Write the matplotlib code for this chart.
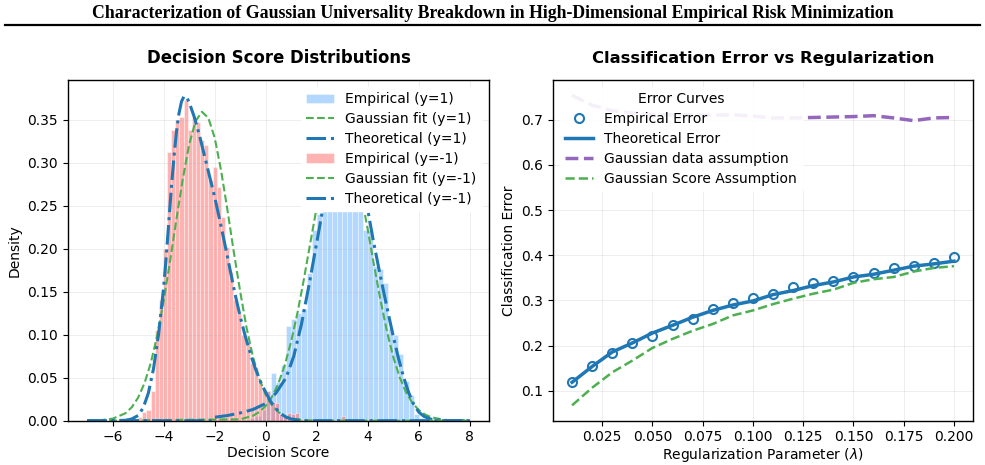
import numpy as np
import matplotlib
matplotlib.use('Agg')
import matplotlib.pyplot as plt
from matplotlib.lines import Line2D

# ---- left panel: histograms (bin start, bin width, densities) ----
pos_start, pos_width = -0.6, 0.2
pos_density = [0.003, 0.006, 0.012, 0.035, 0.056, 0.045, 0.065, 0.110, 0.118, 0.125,
               0.130, 0.172, 0.222, 0.240, 0.270, 0.290, 0.310, 0.330, 0.320, 0.310,
               0.290, 0.262, 0.222, 0.222, 0.180, 0.176, 0.160, 0.108, 0.100, 0.078,
               0.046, 0.030, 0.008, 0.003]

neg_start, neg_width = -5.0, 0.162
neg_density = [0.004, 0.010, 0.013, 0.035, 0.105, 0.140, 0.200, 0.312, 0.338, 0.350,
               0.353, 0.373, 0.338, 0.353, 0.347, 0.326, 0.320, 0.280, 0.295, 0.272,
               0.237, 0.202, 0.173, 0.140, 0.125, 0.100, 0.090, 0.067, 0.062, 0.045,
               0.035, 0.034, 0.022, 0.020, 0.008, 0.004, 0.009, 0.008, 0.009, 0.002,
               0, 0, 0, 0, 0, 0, 0, 0, 0, 0.005]

# Gaussian fits
fit_pos_x = [-7.0, -1.0, -0.5, -0.25, 0.0, 0.25, 0.5, 0.75, 1.0, 1.25, 1.5, 1.75, 2.0,
             2.25, 2.5, 2.75, 3.0, 3.25, 3.5, 3.75, 4.0, 4.25, 4.5, 4.75, 5.0, 5.25,
             5.5, 5.75, 6.0, 6.25, 6.5, 7.0, 7.5, 8.0]
fit_pos_y = [0.0, 0.0016, 0.0057, 0.0101, 0.0172, 0.028, 0.0435, 0.0648, 0.0924, 0.126,
             0.165, 0.207, 0.248, 0.284, 0.313, 0.329, 0.332, 0.320, 0.296, 0.262,
             0.222, 0.180, 0.140, 0.104, 0.074, 0.0505, 0.033, 0.0206, 0.0124, 0.0071,
             0.0039, 0.001, 0.0002, 0.0]

fit_neg_x = [-7.0, -6.5, -6.0, -5.5, -5.25, -5.0, -4.75, -4.5, -4.25, -4.0, -3.75, -3.5,
             -3.25, -3.0, -2.75, -2.5, -2.25, -2.0, -1.75, -1.5, -1.25, -1.0, -0.75,
             -0.5, -0.25, 0.0, 0.25, 0.5, 0.75, 1.0, 1.5, 2.0, 8.0]
fit_neg_y = [0.0001, 0.0005, 0.0023, 0.0086, 0.0156, 0.0268, 0.0436, 0.0675, 0.0993,
             0.139, 0.185, 0.234, 0.281, 0.321, 0.348, 0.359, 0.352, 0.329, 0.291,
             0.245, 0.196, 0.150, 0.108, 0.0744, 0.0486, 0.0302, 0.0179, 0.0100,
             0.0053, 0.0027, 0.0006, 0.0001, 0.0]

# theoretical densities
theo_pos_x = [-7.0, -2.1, -2.0, -1.5, -1.0, -0.5, 0.0, 0.4, 0.8, 1.1, 1.4, 1.7, 2.0, 2.2,
              2.4, 2.6, 2.8, 3.0, 3.2, 3.4, 3.6, 3.8, 4.0, 4.2, 4.4, 4.6, 4.8, 5.0,
              5.2, 5.4, 5.6, 5.8, 6.0, 6.2, 6.5, 7.0, 8.0]
theo_pos_y = [0.0, 0.0, 0.004, 0.006, 0.009, 0.013, 0.020, 0.032, 0.050, 0.075, 0.112,
              0.158, 0.207, 0.240, 0.270, 0.296, 0.315, 0.326, 0.327, 0.318, 0.300,
              0.275, 0.245, 0.212, 0.182, 0.153, 0.125, 0.098, 0.073, 0.051, 0.033,
              0.019, 0.010, 0.005, 0.0015, 0.0, 0.0]

theo_neg_x = [-7.0, -6.0, -5.5, -5.25, -5.0, -4.8, -4.6, -4.4, -4.2, -4.0, -3.9, -3.8,
              -3.7, -3.6, -3.5, -3.4, -3.3, -3.2, -3.1, -3.0, -2.8, -2.6, -2.4, -2.2,
              -2.0, -1.8, -1.6, -1.4, -1.2, -1.0, -0.8, -0.6, -0.4, -0.2, 0.0, 0.2,
              0.4, 0.6, 0.8, 1.0, 1.3, 1.6, 2.0, 8.0]
theo_neg_y = [0.0, 0.0, 0.0005, 0.002, 0.006, 0.015, 0.032, 0.060, 0.100, 0.155, 0.190,
              0.230, 0.270, 0.305, 0.335, 0.357, 0.371, 0.377, 0.376, 0.370, 0.353,
              0.332, 0.308, 0.284, 0.260, 0.233, 0.205, 0.176, 0.147, 0.121, 0.098,
              0.078, 0.060, 0.045, 0.033, 0.022, 0.014, 0.008, 0.004, 0.002, 0.0005,
              0.0, 0.0, 0.0]

# ---- right panel ----
lambdas = [0.01, 0.02, 0.03, 0.04, 0.05, 0.06, 0.07, 0.08, 0.09, 0.10,
           0.11, 0.12, 0.13, 0.14, 0.15, 0.16, 0.17, 0.18, 0.19, 0.20]
emp_err = [0.120, 0.156, 0.184, 0.207, 0.221, 0.246, 0.259, 0.281, 0.295, 0.305,
           0.315, 0.329, 0.338, 0.344, 0.352, 0.361, 0.372, 0.376, 0.383, 0.396]
theo_err = [0.119, 0.154, 0.186, 0.206, 0.228, 0.245, 0.263, 0.278, 0.290, 0.299,
            0.313, 0.322, 0.333, 0.341, 0.352, 0.358, 0.367, 0.376, 0.381, 0.387]
gauss_data_err = [0.754, 0.732, 0.720, 0.715, 0.711, 0.711, 0.711, 0.710, 0.711, 0.708,
                  0.704, 0.704, 0.705, 0.706, 0.707, 0.709, 0.704, 0.698, 0.704, 0.705]
gauss_score_err = [0.068, 0.107, 0.141, 0.167, 0.195, 0.215, 0.233, 0.248, 0.267, 0.278,
                   0.292, 0.304, 0.315, 0.324, 0.339, 0.347, 0.352, 0.364, 0.372, 0.376]

blue = '#1f77b4'
green = '#4caf50'
purple = '#9467bd'

fig = plt.figure(figsize=(9.85, 4.65), dpi=100)
ax1 = fig.add_axes([0.069, 0.0953, 0.4274, 0.7327])
ax2 = fig.add_axes([0.5614, 0.0953, 0.4264, 0.7327])

fig.text(0.5, 0.972, 'Characterization of Gaussian Universality Breakdown in High-Dimensional Empirical Risk Minimization',
         ha='center', va='center', fontsize=12.8, fontweight='bold', family='Liberation Serif')
fig.add_artist(Line2D([0.005, 0.995], [0.946, 0.946], color='black', lw=1.6,
                      transform=fig.transFigure))

# left
pos_edges = pos_start + pos_width * np.arange(len(pos_density))
neg_edges = neg_start + neg_width * np.arange(len(neg_density))

b1 = ax1.bar(pos_edges, pos_density, width=pos_width, align='edge', color='#66b3ff', alpha=0.5,
             edgecolor='white', linewidth=0.6, label='Empirical (y=1)')
l1, = ax1.plot(fit_pos_x, fit_pos_y, '--', color=green, lw=1.5, label='Gaussian fit (y=1)')
l2, = ax1.plot(theo_pos_x, theo_pos_y, '-.', color=blue, lw=2.2, label='Theoretical (y=1)')
b2 = ax1.bar(neg_edges, neg_density, width=neg_width, align='edge', color='#ff6666', alpha=0.5,
             edgecolor='white', linewidth=0.6, label='Empirical (y=-1)')
l3, = ax1.plot(fit_neg_x, fit_neg_y, '--', color=green, lw=1.5, label='Gaussian fit (y=-1)')
l4, = ax1.plot(theo_neg_x, theo_neg_y, '-.', color=blue, lw=2.2, label='Theoretical (y=-1)')

ax1.set_xlim(-7.75, 8.75)
ax1.set_ylim(0, 0.396)
ax1.set_xlabel('Decision Score', fontsize=10, labelpad=1)
ax1.set_ylabel('Density', fontsize=10)
ax1.set_title('Decision Score Distributions', fontsize=11.9, fontweight='bold', pad=12)
ax1.grid(True, alpha=0.25, lw=0.6)
hs = [b1, l1, l2, b2, l3, l4]
ax1.legend(hs, [h.get_label() for h in hs], loc='upper right', fontsize=10,
           framealpha=1, edgecolor='white', labelspacing=0.42)

# right
ax2.plot(lambdas, gauss_data_err, '--', color=purple, lw=2.5, label='Gaussian data assumption')
ax2.plot(lambdas, emp_err, 'o', color=blue, mfc='none', mew=1.5, ms=6.5, label='Empirical Error')
ax2.plot(lambdas, theo_err, '-', color=blue, lw=2.5, label='Theoretical Error')
ax2.plot(lambdas, gauss_score_err, '--', color=green, lw=1.8, label='Gaussian Score Assumption')

ax2.set_xlim(0.0005, 0.2095)
ax2.set_ylim(0.034, 0.788)
ax2.set_xlabel(r'Regularization Parameter ($\lambda$)', fontsize=10, labelpad=1)
ax2.set_ylabel('Classification Error', fontsize=10)
ax2.set_title('Classification Error vs Regularization', fontsize=11.8, fontweight='bold', pad=12)
ax2.grid(True, alpha=0.25, lw=0.6)
h, l = ax2.get_legend_handles_labels()
order = [1, 2, 0, 3]
ax2.legend([h[i] for i in order], [l[i] for i in order], loc='upper left', fontsize=10,
           title='Error Curves', title_fontsize=10, framealpha=0.9, edgecolor='white',
           labelspacing=0.42)

for ax in (ax1, ax2):
    ax.tick_params(labelsize=10)
    for s in ax.spines.values():
        s.set_color('black')
        s.set_linewidth(1.0)

fig.savefig('out.png', dpi=100)
